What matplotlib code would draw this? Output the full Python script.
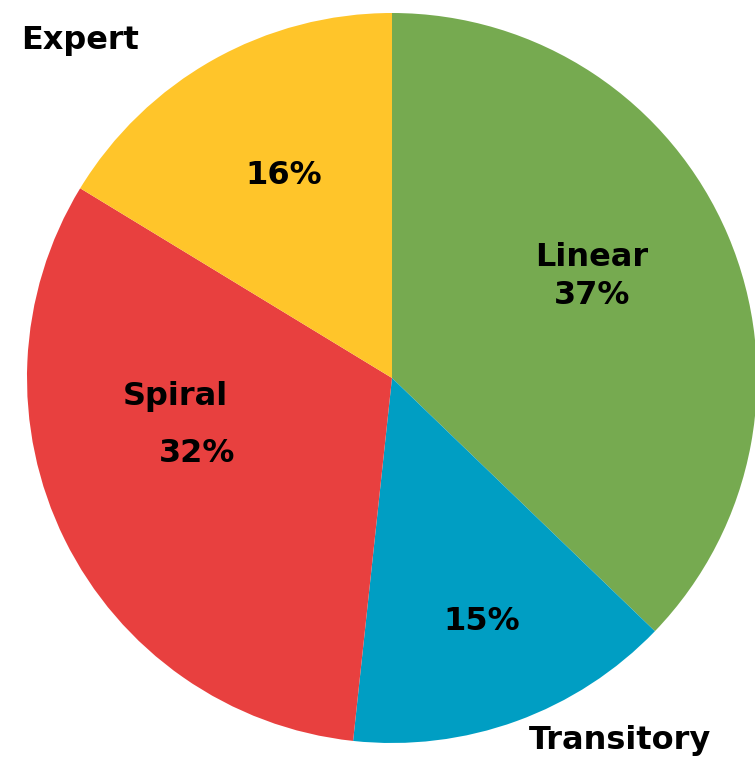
import matplotlib
matplotlib.use("Agg")
import matplotlib.pyplot as plt

categories = ["Linear", "Transitory", "Spiral", "Expert"]
values = [37.2, 14.5, 32.0, 16.3]
pct_labels = ["37%", "15%", "32%", "16%"]
colors = ["#76AA50", "#009EC3", "#E8403F", "#FFC52A"]

W, H = 755, 757
cx, cy, R = 392, 378, 365  # pixel center (from top) and radius

fig = plt.figure(figsize=(W / 100, H / 100), dpi=100)
ax = fig.add_axes([0, 0, 1, 1])
ax.pie(values, colors=colors, startangle=90, counterclock=False, radius=1,
       wedgeprops=dict(linewidth=0))
ax.set_xlim(-cx / R, (W - cx) / R)
ax.set_ylim(-(H - cy) / R, cy / R)
ax.set_aspect("auto")
ax.axis("off")

def px(x, y):
    return (x - cx) / R, (cy - y) / R

fs = 23
font = dict(fontsize=fs, fontweight="bold", color="black", ha="center", va="center",
            family="DejaVu Sans")
texts = [
    (categories[0], 592, 257), (pct_labels[0], 592, 296),
    (pct_labels[1], 482, 622), (categories[1], 620, 740),
    (categories[2], 175, 397), (pct_labels[2], 197, 453),
    (pct_labels[3], 284, 176), (categories[3], 80, 40),
]
for t, x, y in texts:
    ax.text(*px(x, y), t, clip_on=False, **font)

fig.savefig("out.png", dpi=100)
